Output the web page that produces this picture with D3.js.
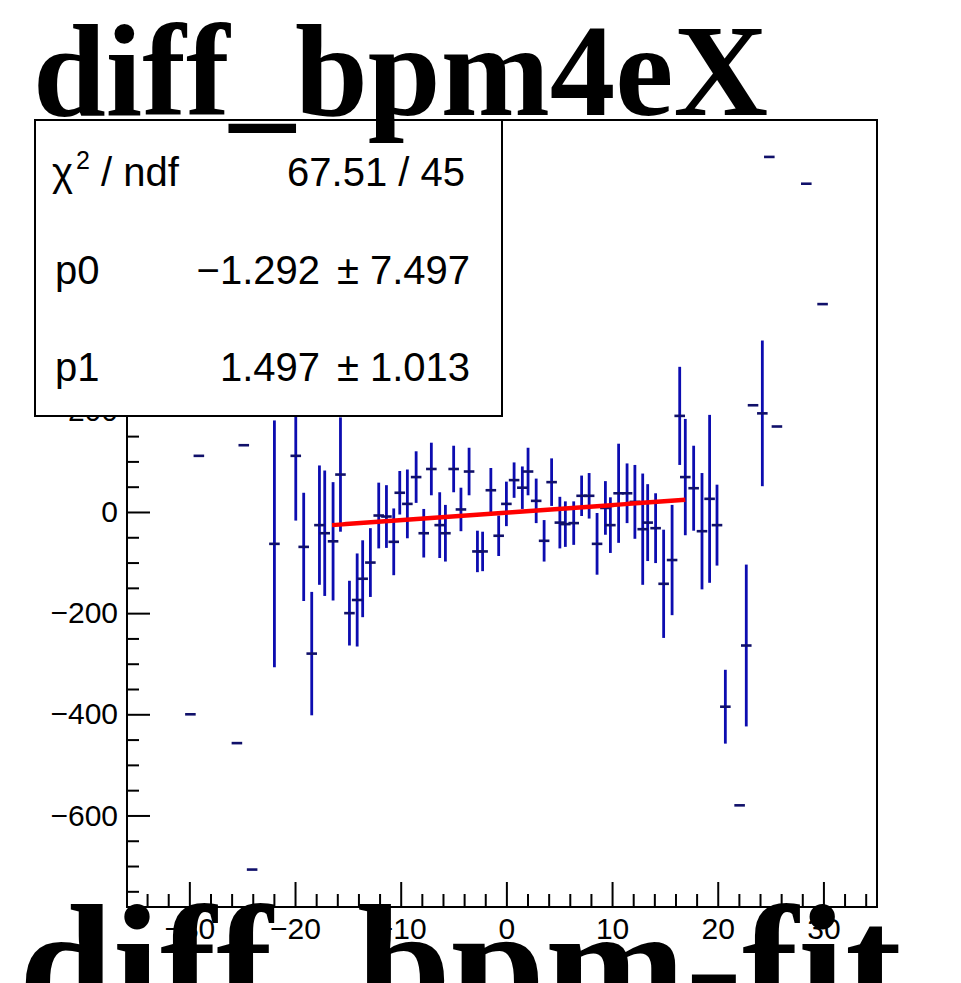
<!DOCTYPE html>
<html><head><meta charset="utf-8">
<script src="https://cdn.jsdelivr.net/npm/d3@7"></script>
<style>html,body{margin:0;padding:0;background:#fff;}svg{display:block;}</style>
</head><body>
<svg id="c" width="961" height="983"></svg>
<script>
// ---- data ----
const xs  = [-29.9,-29.1,-25.5,-24.85,-24.06,-21.95,-19.93,-19.18,-18.42,-17.69,-17.19,-16.4,-15.7,-14.85,-14.12,-13.6,-12.87,-12.08,-11.35,-10.66,-10.09,-9.37,-8.54,-7.82,-7.1,-6.31,-5.77,-4.99,-4.3,-3.53,-2.74,-2.25,-1.47,-0.73,0,0.73,1.51,2.05,2.82,3.57,4.28,5.06,5.58,6.37,7.12,7.83,8.58,9.37,9.84,10.62,11.42,12.16,12.9,13.37,14.12,14.88,15.68,16.4,16.93,17.72,18.51,19.23,19.93,20.72,22.07,22.7,23.34,24.22,24.88,25.6,28.38,29.92];
const ys  = [-400,111,-457,132,-707,-63,111,-69,-280,-26,-42,-58,74,-200,-174,-132,-100,-7,-9,-59,38,16,69,-42,85,-26,-42,85,5,80,-78,-78,43,-47,16,63,48,80,22,-57,59,-21,-24,-22,32,32,-63,8,-26,37,37,20,-34,-21,-32,-142,-95,190,69,47,-38,26,-26,-385,-580,-264,211,195,702,169,649,411];
const eys = [0,0,0,0,0,244,128,107,122,118,124,117,113,64,92,76,68,65,62,66,43,68,51,48,52,65,56,46,43,47,41,39,44,40,44,35,42,47,44,41,47,51,45,43,40,45,61,53,55,98,59,73,110,76,69,107,109,97,115,84,115,166,80,73,0,160,0,144,0,0,0,0];
const exs = xs.map(() => 0.5);
const yMajor = [-600,-400,-200,0,200,400,600];
const xMajor = [-30,-20,-10,0,10,20,30];
const fitPars = {p0:-1.292, p1:1.497};
const fitRange = [-16.5, 16.93];
const statLabels = ["χ² / ndf","p0","p1"];
const statValues = [["67.51 / 45"],["−1.292","±","7.497"],["1.497","±","1.013"]];
const titleTop = "diff_bpm4eX";
const titleBottom = "diff_bpm-fit";

// ---- layout ----
const svg = d3.select("#c");
const L=127, R=877, T=120, B=907;
const x = d3.scaleLinear([-35.9, 35.07],[L,R]);
const y = d3.scaleLinear([-781, 775],[B,T]);
const blue = "#0c0cb0";
const sf = "Liberation Sans, Arial, sans-serif";

// frame
svg.append("rect").attr("x",L).attr("y",T).attr("width",R-L).attr("height",B-T)
  .attr("fill","#fff").attr("stroke","#000").attr("stroke-width",2);

// ticks
const yMinor = d3.range(-750, 776, 50).filter(v=>!yMajor.includes(v));
const xMinor = d3.range(-34, 36, 2).filter(v=>!xMajor.includes(v));
const axStyle = g => { g.select(".domain").remove(); g.selectAll("line").attr("stroke","#000").attr("stroke-width",2);
  g.selectAll("text").attr("font-family",sf).attr("font-size",30).attr("fill","#000"); };

svg.append("g").attr("transform",`translate(${L},0)`)
  .call(d3.axisLeft(y).tickValues(yMinor).tickSize(-12).tickFormat("")).call(axStyle);
svg.append("g").attr("transform",`translate(${L},0)`)
  .call(d3.axisLeft(y).tickValues(yMajor).tickSize(-23).tickPadding(9).tickFormat(d3.format("d"))).call(axStyle);
svg.append("g").attr("transform",`translate(0,${B})`)
  .call(d3.axisBottom(x).tickValues(xMinor).tickSize(-13).tickFormat("")).call(axStyle);
svg.append("g").attr("transform",`translate(0,${B})`)
  .call(d3.axisBottom(x).tickValues(xMajor).tickSize(-25).tickPadding(11).tickFormat(d3.format("d"))).call(axStyle);

// data with error bars
svg.append("clipPath").attr("id","plotclip").append("rect").attr("x",L).attr("y",T).attr("width",R-L).attr("height",B-T);
const gd = svg.append("g").attr("clip-path","url(#plotclip)");
const idx = d3.range(xs.length);
gd.selectAll("line.ey").data(idx.filter(i=>eys[i]>0)).join("line").attr("class","ey")
  .attr("x1",i=>x(xs[i])).attr("x2",i=>x(xs[i]))
  .attr("y1",i=>y(ys[i]+eys[i])).attr("y2",i=>y(ys[i]-eys[i]))
  .attr("stroke",blue).attr("stroke-width",2.8);
gd.selectAll("line.ex").data(idx).join("line").attr("class","ex")
  .attr("x1",i=>x(xs[i]-exs[i])).attr("x2",i=>x(xs[i]+exs[i]))
  .attr("y1",i=>y(ys[i])).attr("y2",i=>y(ys[i]))
  .attr("stroke","#10106a").attr("stroke-width",2.6);

// fit line
const fx = d3.range(fitRange[0], fitRange[1]+1e-9, (fitRange[1]-fitRange[0])/100);
gd.append("path").datum(fx)
  .attr("d", d3.line().x(v=>x(v)).y(v=>y(fitPars.p0+fitPars.p1*v)))
  .attr("fill","none").attr("stroke","#ff0000").attr("stroke-width",4.5);

// stats box
const box = svg.append("g");
box.append("rect").attr("x",35).attr("y",120).attr("width",467).attr("height",296)
  .attr("fill","#fff").attr("stroke","#000").attr("stroke-width",2);
const rowY = [186, 284, 381];
const txt = (xx,yy,anchor) => box.append("text").attr("x",xx).attr("y",yy).attr("text-anchor",anchor)
  .attr("font-family",sf).attr("font-size",40).attr("fill","#000");
statLabels.forEach((s,i)=>{
  if(i===0){
    const t = txt(52,rowY[i],"start");
    t.append("tspan").text("χ");
    t.append("tspan").attr("font-size",25).attr("dy",-17).attr("dx",3).text("2");
    t.append("tspan").attr("dy",17).text(" / ndf");
    txt(465,rowY[i],"end").text(statValues[i][0]);
  } else {
    txt(55,rowY[i],"start").text(s);
    txt(320,rowY[i],"end").text(statValues[i][0]);
    txt(348,rowY[i],"middle").text(statValues[i][1]);
    txt(470,rowY[i],"end").text(statValues[i][2]);
  }
});

// titles
svg.append("text").attr("x",33).attr("y",115).attr("font-family","Liberation Serif, Times New Roman, serif")
  .attr("font-weight","bold").attr("font-size",131).attr("fill","#000").text(titleTop);
svg.append("text").attr("x",19).attr("y",1022).attr("font-family","Liberation Serif, Times New Roman, serif")
  .attr("font-weight","bold").attr("font-size",169).attr("fill","#000").text(titleBottom);
</script>
</body></html>
